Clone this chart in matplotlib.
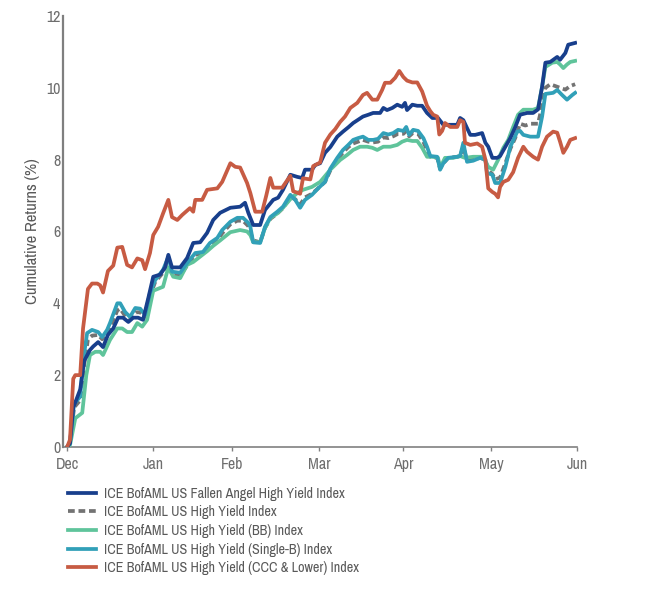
import matplotlib
matplotlib.use('Agg')
import matplotlib.pyplot as plt

# trading days since 1 Dec (x) and cumulative return in % (y)
fa_days = [0, 0.7, 1.5, 2.2, 3.2, 4.2, 5.6, 6.4, 7.6, 8.8, 10.0, 11.3, 12.5, 13.7, 15.0, 16.2,
           17.4, 18.6, 19.9, 21.1, 22.8, 24.0, 24.8, 25.7, 27.7, 29.4, 30.9, 32.6, 34.3, 35.8,
           37.5, 40.0, 42.4, 43.6, 44.4, 45.6, 47.3, 48.5, 50.5, 51.7, 52.9, 54.7, 56.4, 57.6,
           58.3, 60.0, 60.8, 62.0, 63.2, 64.5, 66.2, 67.6, 68.9, 70.1, 71.3, 72.5, 73.8, 75.0,
           76.7, 77.5, 78.4, 79.7, 80.9, 82.1, 82.8, 83.3, 84.6, 85.8, 87.0, 88.2, 89.5, 90.9,
           92.2, 93.9, 95.6, 96.3, 97.1, 98.0, 98.8, 100.0, 101.7, 102.5, 103.2, 104.2, 105.4,
           106.1, 107.4, 108.6, 109.8, 111.0, 112.7, 114.2, 115.4, 116.4, 117.2, 118.4, 120.1,
           120.8, 122.1, 122.8, 124.5]
fa_vals = [0, 0.1, 1.1, 1.3, 1.6, 2.4, 2.7, 2.8, 2.92, 2.78, 3.12, 3.3, 3.6, 3.6, 3.48, 3.6,
           3.6, 3.54, 4.15, 4.74, 4.8, 5.0, 5.35, 5.0, 5.0, 5.26, 5.68, 5.7, 5.96, 6.32,
           6.52, 6.66, 6.69, 6.8, 6.52, 6.18, 6.18, 6.6, 6.88, 6.94, 7.16, 7.58, 7.52, 7.49,
           7.72, 7.72, 7.85, 7.9, 8.19, 8.35, 8.64, 8.78, 8.9, 9.02, 9.11, 9.2, 9.25, 9.3,
           9.3, 9.44, 9.38, 9.44, 9.53, 9.47, 9.58, 9.38, 9.53, 9.5, 9.5, 9.3, 9.16, 9.16,
           8.97, 8.97, 8.97, 9.16, 9.1, 8.88, 8.69, 8.69, 8.74, 8.47, 8.36, 8.05, 8.05,
           8.1, 8.36, 8.6, 8.9, 9.25, 9.3, 9.3, 9.4, 10.03, 10.7, 10.72, 10.86,
           10.78, 10.97, 11.2, 11.25]

hy_days = [0, 0.7, 1.7, 3.2, 4.2, 5.1, 6.1, 7.6, 8.6, 9.8, 10.5, 12.3, 13.0, 14.2, 15.4, 16.7,
           17.9, 19.1, 20.3, 21.6, 23.5, 24.8, 25.7, 27.7, 29.4, 31.4, 33.3, 35.0, 36.8, 38.0,
           40.0, 41.7, 43.1, 44.4, 45.6, 47.3, 48.5, 49.8, 51.5, 52.9, 54.7, 55.9, 57.1, 58.3,
           60.0, 61.5, 63.2, 64.5, 66.2, 67.6, 68.9, 70.1, 71.3, 72.5, 73.8, 75.0, 76.2, 77.5,
           78.7, 79.9, 81.1, 82.4, 83.1, 83.8, 84.8, 86.0, 87.3, 88.2, 89.0, 90.7, 91.4, 92.2,
           93.4, 95.6, 96.3, 97.1, 98.0, 99.5, 101.2, 102.5, 103.2, 104.2, 104.9, 106.1, 107.4,
           108.6, 109.8, 111.0, 112.3, 113.5, 115.4, 116.4, 117.2, 118.4, 119.6, 120.8, 122.1,
           123.3, 124.5]
hy_vals = [0, 0.1, 1.1, 1.3, 2.3, 3.0, 3.1, 3.12, 3.0, 3.15, 3.3, 3.8, 3.85, 3.65, 3.55, 3.75,
           3.75, 3.62, 4.2, 4.6, 4.85, 5.25, 4.8, 4.78, 5.05, 5.35, 5.4, 5.62, 5.75, 5.95,
           6.2, 6.3, 6.3, 6.15, 5.75, 5.7, 6.1, 6.35, 6.5, 6.65, 6.95, 6.9, 6.75, 6.95,
           7.05, 7.2, 7.38, 7.7, 8.0, 8.2, 8.35, 8.45, 8.5, 8.55, 8.5, 8.48, 8.5, 8.62,
           8.6, 8.65, 8.72, 8.72, 8.8, 8.65, 8.75, 8.72, 8.5, 8.25, 8.08, 8.05, 7.75, 7.9,
           8.05, 8.08, 8.1, 8.35, 7.98, 8.0, 8.05, 8.0, 7.7, 7.6, 7.45, 7.5, 7.9,
           8.3, 8.6, 9.0, 8.95, 9.0, 9.0, 9.5, 10.0, 10.1, 10.05, 10.0, 9.95,
           10.05, 10.1]

bb_days = [0, 0.7, 2.0, 3.7, 4.7, 5.6, 6.9, 8.1, 8.8, 10.5, 12.3, 13.5, 14.7, 15.9, 17.2, 18.4,
           19.6, 21.1, 23.5, 24.8, 26.0, 27.7, 29.4, 30.9, 32.6, 34.3, 35.8, 37.5, 40.0, 42.4,
           44.1, 44.9, 45.6, 47.3, 48.5, 49.8, 51.5, 52.9, 54.7, 56.4, 57.8, 60.0, 62.0, 64.5,
           66.9, 68.6, 70.1, 71.8, 73.5, 74.8, 76.0, 77.5, 79.2, 80.9, 82.1, 83.3, 84.6, 85.8,
           87.0, 88.2, 89.7, 90.9, 91.4, 92.6, 94.6, 96.3, 97.5, 99.5, 102.0, 103.2, 104.4, 105.6,
           106.9, 108.1, 109.3, 110.5, 111.8, 114.2, 115.4, 116.4, 117.2, 118.9, 120.1, 120.8,
           121.6, 122.5, 123.3, 124.5]
bb_vals = [0, 0.05, 0.8, 0.95, 2.0, 2.56, 2.65, 2.65, 2.56, 2.98, 3.3, 3.3, 3.2, 3.2, 3.45, 3.35,
           3.54, 4.35, 4.46, 5.0, 4.74, 4.7, 5.07, 5.15, 5.3, 5.45, 5.6, 5.75, 5.98, 6.04,
           6.0, 5.9, 5.7, 5.7, 6.1, 6.38, 6.5, 6.66, 6.9, 7.07, 7.16, 7.24, 7.38, 7.72,
           7.99, 8.13, 8.27, 8.36, 8.36, 8.33, 8.27, 8.36, 8.36, 8.41, 8.5, 8.55, 8.52, 8.52,
           8.33, 8.08, 8.08, 8.05, 7.77, 8.05, 8.05, 8.1, 8.05, 8.08, 8.08, 7.8, 7.72, 7.99,
           8.33, 8.55, 8.91, 9.25, 9.39, 9.39, 9.44, 10.03, 10.58, 10.7, 10.72, 10.65,
           10.55, 10.65, 10.72, 10.75]

sb_days = [0, 0.7, 1.7, 3.2, 3.9, 4.9, 6.1, 7.6, 8.6, 9.8, 10.5, 12.3, 13.0, 14.2, 15.4, 16.7,
           17.9, 19.1, 20.3, 21.6, 23.5, 24.8, 25.7, 27.7, 29.4, 31.4, 33.3, 35.0, 36.8, 38.0,
           40.0, 41.7, 43.1, 44.4, 44.9, 45.6, 47.3, 48.5, 49.8, 51.5, 52.9, 54.7, 55.9, 57.1,
           58.3, 60.0, 61.5, 63.2, 64.5, 66.2, 67.6, 68.9, 70.1, 71.3, 72.5, 73.8, 75.0, 76.2,
           77.5, 78.7, 79.9, 81.1, 82.4, 83.1, 83.8, 84.8, 86.0, 87.3, 88.2, 89.0, 90.7, 91.4,
           92.2, 93.4, 95.6, 96.3, 97.1, 98.0, 99.5, 101.2, 102.5, 102.9, 104.2, 104.9, 106.1,
           107.4, 108.6, 110.3, 111.0, 111.8, 113.5, 115.4, 116.4, 117.2, 119.1, 120.1, 121.3,
           122.5, 123.8, 124.5]
sb_vals = [0, 0.1, 1.2, 1.4, 2.4, 3.17, 3.26, 3.2, 3.06, 3.26, 3.45, 4.0, 4.0, 3.76, 3.62, 3.87,
           3.85, 3.68, 4.29, 4.65, 4.93, 5.29, 4.88, 4.85, 5.12, 5.4, 5.43, 5.68, 5.82, 6.04,
           6.27, 6.38, 6.38, 6.24, 6.13, 5.7, 5.68, 6.13, 6.4, 6.55, 6.69, 7.02, 6.88, 6.66,
           6.88, 7.02, 7.2, 7.38, 7.75, 8.05, 8.27, 8.41, 8.55, 8.6, 8.64, 8.55, 8.55, 8.58,
           8.74, 8.7, 8.74, 8.83, 8.8, 8.91, 8.69, 8.83, 8.8, 8.6, 8.36, 8.1, 8.08, 7.72,
           7.9, 8.05, 8.08, 8.1, 8.47, 7.94, 7.97, 8.05, 8.0, 7.63, 7.58, 7.35, 7.35,
           7.8, 8.36, 8.78, 8.8, 8.69, 8.64, 8.64, 9.2, 9.83, 9.86, 9.94, 9.8,
           9.67, 9.8, 9.86]

ccc_days = [0, 0.7, 1.5, 2.0, 3.2, 3.9, 5.1, 6.1, 7.4, 8.1, 8.8, 10.0, 11.3, 12.3, 13.5, 14.7,
            15.9, 17.2, 18.4, 19.1, 20.3, 21.1, 22.3, 23.5, 24.8, 25.7, 27.0, 28.2, 30.1, 30.9,
            31.4, 33.1, 34.3, 36.8, 38.0, 40.0, 41.2, 42.4, 44.1, 44.9, 46.1, 47.8, 48.8, 49.8,
            50.5, 52.7, 54.7, 55.4, 57.1, 57.8, 59.6, 60.3, 62.0, 63.2, 64.5, 65.7, 66.9, 68.1,
            69.4, 71.1, 72.5, 73.5, 74.8, 76.0, 77.2, 77.9, 79.2, 80.4, 81.4, 82.4, 83.3, 84.6,
            85.8, 87.0, 88.2, 89.0, 89.7, 90.7, 91.2, 91.9, 92.6, 93.9, 95.6, 96.3, 97.1, 97.5,
            98.8, 100.5, 101.7, 102.5, 103.2, 104.2, 104.9, 105.6, 106.1, 106.9, 108.1, 109.3,
            110.5, 111.8, 112.7, 114.2, 115.4, 116.4, 117.6, 119.1, 120.1, 120.8, 121.6, 122.5,
            123.3, 124.5]
ccc_vals = [0, 0.2, 1.9, 2.0, 2.0, 3.3, 4.4, 4.55, 4.55, 4.5, 4.3, 4.9, 5.05, 5.55, 5.57, 5.07,
            5.0, 5.25, 5.2, 4.95, 5.4, 5.9, 6.13, 6.5, 6.88, 6.4, 6.32, 6.46, 6.65, 6.55,
            6.88, 6.88, 7.16, 7.2, 7.38, 7.9, 7.8, 7.78, 7.35, 7.07, 6.55, 6.55, 7.0, 7.49,
            7.22, 7.22, 7.55, 7.12, 7.05, 7.48, 7.45, 7.82, 7.92, 8.47, 8.7, 8.85, 9.05, 9.2,
            9.44, 9.58, 9.8, 9.86, 9.67, 9.67, 9.94, 10.14, 10.14, 10.28, 10.47, 10.3, 10.2, 10.15,
            10.15, 9.9, 9.5, 9.35, 9.25, 9.2, 8.7, 8.8, 9.02, 8.91, 8.91, 9.1, 9.05, 8.47,
            8.41, 8.45, 8.36, 8.0, 7.2, 7.1, 7.05, 6.95, 7.24, 7.38, 7.44, 7.65,
            8.05, 8.36, 8.22, 8.08, 8.0, 8.36, 8.64, 8.78, 8.75, 8.5, 8.19, 8.36,
            8.55, 8.6]

labels = ['ICE BofAML US Fallen Angel High Yield Index',
          'ICE BofAML US High Yield Index',
          'ICE BofAML US High Yield (BB) Index',
          'ICE BofAML US High Yield (Single-B) Index',
          'ICE BofAML US High Yield (CCC & Lower) Index']
month_pos = [0, 21, 40.4, 61.8, 82.4, 103.9, 125]
month_names = ['Dec', 'Jan', 'Feb', 'Mar', 'Apr', 'May', 'Jun']
yticks = [0, 2, 4, 6, 8, 10, 12]

plt.rcParams['font.family'] = ['Archivo Narrow', 'PT Sans Narrow', 'DejaVu Sans']

fig = plt.figure(figsize=(6.5, 5.92), dpi=100)
ax = fig.add_axes([0.097, 0.245, 0.791, 0.728])

lw = 2.7
ax.plot(hy_days, hy_vals, color='#737373', lw=lw, dashes=[1.8, 1.0], zorder=2)
ax.plot(bb_days, bb_vals, color='#5fc49b', lw=lw, zorder=3)
ax.plot(sb_days, sb_vals, color='#31a0b8', lw=lw, zorder=4)
ax.plot(fa_days, fa_vals, color='#183f8c', lw=lw, zorder=5)
ax.plot(ccc_days, ccc_vals, color='#c75b43', lw=lw, zorder=6)

ax.set_xlim(-1, 125)
ax.set_ylim(0, 12)
ax.set_xticks(month_pos)
ax.set_xticklabels(month_names)
ax.set_yticks(yticks)
ax.set_yticklabels([str(v) for v in yticks])

for s in ['top', 'right']:
    ax.spines[s].set_visible(False)
ax.spines['left'].set_color('#7f7f7f')
ax.spines['left'].set_linewidth(1.6)
ax.spines['bottom'].set_color('#808080')
ax.spines['bottom'].set_linewidth(1.2)
ax.spines['bottom'].set_bounds(-1, 125)

ax.tick_params(axis='y', length=0, pad=2, labelsize=11.5, labelcolor='#6e6e6e')
ax.tick_params(axis='x', length=3, width=1, color='#808080', pad=4, labelsize=11.5,
               labelcolor='#6e6e6e')
ax.set_ylabel('Cumulative Returns (%)', fontsize=12, color='#595959', labelpad=4)

# legend, in the same order as the reference
handles = ax.get_lines()
order = [3, 0, 1, 2, 4]
fig.legend([handles[i] for i in order], labels, loc='upper left',
           bbox_to_anchor=(0.096, 0.1875), frameon=False, fontsize=10.2,
           handlelength=1.95, handletextpad=0.58, labelspacing=0.33,
           labelcolor='#595959', borderaxespad=0)

fig.savefig('out.png', dpi=100, facecolor='white')
